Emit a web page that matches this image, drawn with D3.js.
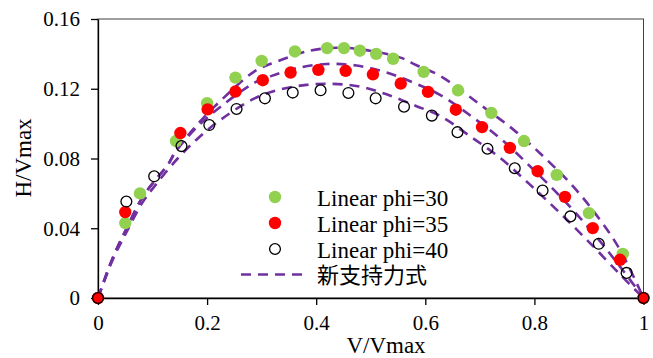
<!DOCTYPE html>
<html>
<head>
<meta charset="utf-8">
<script src="https://cdn.jsdelivr.net/npm/d3@7"></script>
<style>
  body { margin: 0; background: #fff; }
  .axis text { font-family: "Liberation Serif", "Times New Roman", serif; font-size: 21px; fill: #000; }
  .axis path, .axis line { stroke: #000; stroke-width: 1.3; }
</style>
</head>
<body>
<svg class="chart"></svg>
<script>
// measured points (V/Vmax, H/Vmax)
const v30 = [0.05, 0.077, 0.143, 0.2, 0.252, 0.3, 0.361, 0.42, 0.451, 0.48, 0.51, 0.541, 0.597, 0.66, 0.721, 0.781, 0.841, 0.9, 0.962];
const h30 = [0.043, 0.06, 0.09, 0.1117, 0.1264, 0.136, 0.1414, 0.1433, 0.1433, 0.1418, 0.14, 0.1372, 0.1297, 0.1191, 0.1061, 0.09, 0.0706, 0.0487, 0.0253];

const v35 = [0, 0.05, 0.151, 0.201, 0.252, 0.302, 0.353, 0.404, 0.454, 0.504, 0.555, 0.605, 0.656, 0.704, 0.755, 0.806, 0.856, 0.907, 0.957, 1];
const h35 = [0, 0.0493, 0.0946, 0.1082, 0.1184, 0.1249, 0.1293, 0.1308, 0.1303, 0.1283, 0.123, 0.1182, 0.108, 0.098, 0.0861, 0.0727, 0.058, 0.0401, 0.0219, 0];

const v40 = [0, 0.052, 0.103, 0.153, 0.204, 0.254, 0.306, 0.357, 0.408, 0.459, 0.509, 0.561, 0.612, 0.659, 0.714, 0.764, 0.815, 0.866, 0.918, 0.969, 1];
const h40 = [0, 0.0553, 0.0698, 0.0871, 0.0992, 0.1084, 0.1145, 0.1178, 0.1191, 0.1176, 0.1145, 0.1097, 0.1046, 0.0951, 0.0856, 0.0744, 0.0616, 0.0468, 0.0311, 0.0144, 0];

// new bearing capacity formula curves
const fitV30 = [0, 0.027, 0.051, 0.082, 0.106, 0.128, 0.143, 0.183, 0.226, 0.287, 0.327, 0.388, 0.437, 0.48, 0.553, 0.584, 0.627, 0.7, 0.761, 0.816, 0.871, 0.92, 0.957, 1];
const fitH30 = [0, 0.023, 0.039, 0.058, 0.068, 0.0765, 0.0845, 0.0998, 0.1135, 0.130, 0.1355, 0.1418, 0.1435, 0.1427, 0.138, 0.1335, 0.1274, 0.111, 0.0967, 0.0813, 0.064, 0.0449, 0.0276, 0];

const fitV35 = [0, 0.027, 0.051, 0.082, 0.106, 0.128, 0.143, 0.183, 0.226, 0.287, 0.315, 0.364, 0.419, 0.474, 0.529, 0.578, 0.627, 0.688, 0.743, 0.798, 0.853, 0.908, 0.957, 1];
const fitH35 = [0, 0.023, 0.039, 0.058, 0.068, 0.0762, 0.0842, 0.0985, 0.110, 0.1235, 0.127, 0.1318, 0.1342, 0.1333, 0.1293, 0.1235, 0.1165, 0.1034, 0.090, 0.0737, 0.0564, 0.0372, 0.018, 0];

const fitV40 = [0, 0.027, 0.051, 0.082, 0.106, 0.146, 0.183, 0.226, 0.287, 0.333, 0.382, 0.431, 0.48, 0.529, 0.584, 0.627, 0.682, 0.737, 0.792, 0.847, 0.902, 0.957, 1];
const fitH40 = [0, 0.022, 0.037, 0.055, 0.065, 0.080, 0.0915, 0.1025, 0.1145, 0.1195, 0.1222, 0.1228, 0.1212, 0.1168, 0.110, 0.1045, 0.0928, 0.0804, 0.065, 0.0487, 0.0315, 0.0135, 0];

const xTicks = [0, 0.2, 0.4, 0.6, 0.8, 1];
const xTickLabels = ['0', '0.2', '0.4', '0.6', '0.8', '1'];
const yTicks = [0, 0.04, 0.08, 0.12, 0.16];
const yTickLabels = ['0', '0.04', '0.08', '0.12', '0.16'];

const legendLabels = ['Linear phi=30', 'Linear phi=35', 'Linear phi=40', '新支持力式'];

const W = 653, H = 358;
const margin = { top: 19, right: 9.5, bottom: 60, left: 98 };

const x = d3.scaleLinear().domain([0, 1]).range([margin.left, W - margin.right]);
const y = d3.scaleLinear().domain([0, 0.16]).range([H - margin.bottom, margin.top]);

const zip = (a, b) => a.map((d, i) => [d, b[i]]);

const svg = d3.select('.chart')
  .attr('width', W)
  .attr('height', H);

// frame
svg.append('rect')
  .attr('x', x(0)).attr('y', y(0.16))
  .attr('width', x(1) - x(0)).attr('height', y(0) - y(0.16))
  .attr('fill', 'none')
  .attr('stroke', '#404040')
  .attr('stroke-width', 1);

svg.append('g')
  .attr('class', 'x axis')
  .attr('transform', 'translate(0,' + y(0) + ')')
  .call(d3.axisBottom(x).tickValues(xTicks).tickFormat((d, i) => xTickLabels[i])
    .tickSize(7).tickSizeOuter(0).tickPadding(10));

svg.append('g')
  .attr('class', 'y axis')
  .attr('transform', 'translate(' + x(0) + ',0)')
  .call(d3.axisLeft(y).tickValues(yTicks).tickFormat((d, i) => yTickLabels[i])
    .tickSize(7).tickSizeOuter(0).tickPadding(11));

svg.selectAll('.axis text').attr('dy', null);
svg.selectAll('.x.axis text').attr('dy', '0.71em');
svg.selectAll('.y.axis text').attr('dy', '0.33em');

// axis titles
svg.append('text')
  .attr('x', 386).attr('y', 353)
  .attr('text-anchor', 'middle')
  .style('font-family', '"Liberation Serif", serif')
  .style('font-size', '23px')
  .text('V/Vmax');

svg.append('text')
  .attr('transform', 'translate(31,158) rotate(-90)')
  .attr('text-anchor', 'middle')
  .style('font-family', '"Liberation Serif", serif')
  .style('font-size', '23px')
  .text('H/Vmax');

// dashed curves
const line = d3.line()
  .x(d => x(d[0]))
  .y(d => y(d[1]))
  .curve(d3.curveCatmullRom.alpha(0.5));

const fits = [zip(fitV30, fitH30), zip(fitV35, fitH35), zip(fitV40, fitH40)];

svg.selectAll('.fit')
    .data(fits)
  .enter().append('path')
    .attr('class', 'fit')
    .attr('d', line)
    .attr('fill', 'none')
    .attr('stroke', '#7030A0')
    .attr('stroke-width', 2.6)
    .attr('stroke-dasharray', '10,7');

// points
svg.append('g').selectAll('circle')
    .data(zip(v30, h30))
  .enter().append('circle')
    .attr('cx', d => x(d[0]))
    .attr('cy', d => y(d[1]))
    .attr('r', 6.2)
    .attr('fill', '#92D050');

svg.append('g').selectAll('circle')
    .data(zip(v35, h35))
  .enter().append('circle')
    .attr('cx', d => x(d[0]))
    .attr('cy', d => y(d[1]))
    .attr('r', 6.2)
    .attr('fill', '#FF0000');

svg.append('g').selectAll('circle')
    .data(zip(v40, h40))
  .enter().append('circle')
    .attr('cx', d => x(d[0]))
    .attr('cy', d => y(d[1]))
    .attr('r', 5.4)
    .attr('fill', 'none')
    .attr('stroke', '#000')
    .attr('stroke-width', 1.3);

// legend
const legend = svg.append('g').attr('class', 'legend');
const rowY = [197, 223, 249, 274.5];

legend.append('circle').attr('cx', 275).attr('cy', rowY[0]).attr('r', 6.2).attr('fill', '#92D050');
legend.append('circle').attr('cx', 275).attr('cy', rowY[1]).attr('r', 6.2).attr('fill', '#FF0000');
legend.append('circle').attr('cx', 275).attr('cy', rowY[2]).attr('r', 5.4)
  .attr('fill', 'none').attr('stroke', '#000').attr('stroke-width', 1.3);
legend.append('line')
  .attr('x1', 241).attr('x2', 306).attr('y1', rowY[3]).attr('y2', rowY[3])
  .attr('stroke', '#7030A0').attr('stroke-width', 2.6).attr('stroke-dasharray', '10,7');

legend.selectAll('text')
    .data(legendLabels)
  .enter().append('text')
    .attr('x', 317)
    .attr('y', (d, i) => rowY[i] + (i < 3 ? 8.5 : 8))
    .style('font-family', (d, i) => i < 3 ? '"Liberation Serif", serif' : '"Noto Sans CJK JP", sans-serif')
    .style('font-size', (d, i) => i < 3 ? '23px' : '22px')
    .text(d => d);
</script>
</body>
</html>
